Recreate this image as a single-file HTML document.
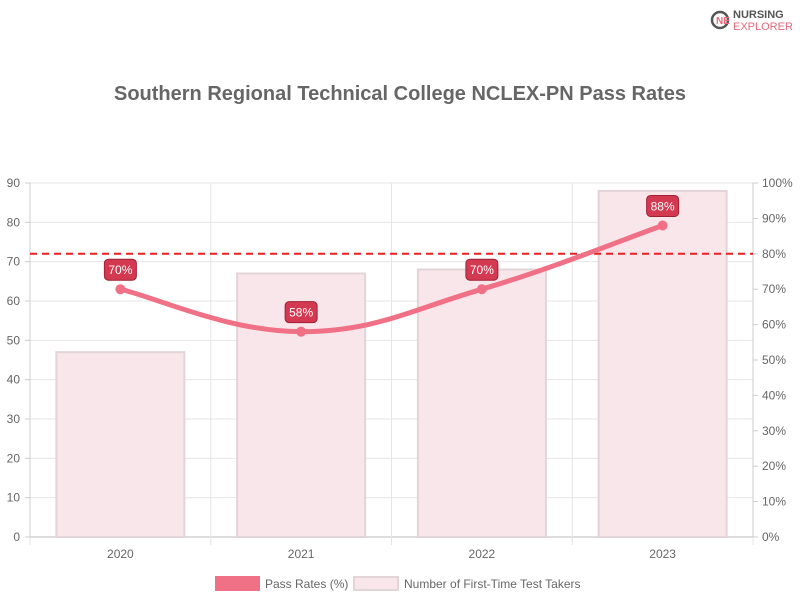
<!DOCTYPE html>
<html><head><meta charset="utf-8"><style>
body{margin:0;background:#fff;width:800px;height:600px;overflow:hidden;font-family:"Liberation Sans",sans-serif}
</style></head><body>
<svg id="c" width="800" height="600" font-family="Liberation Sans, sans-serif"></svg>
<script>
const categories=["2020","2021","2022","2023"];
const takers=[47,67,68,88];
const passRates=[70,58,70,88];
const benchmark=80;
const leftTicks=[0,10,20,30,40,50,60,70,80,90];
const rightTicks=["0%","10%","20%","30%","40%","50%","60%","70%","80%","90%","100%"];
const NS="http://www.w3.org/2000/svg";
const svg=document.getElementById('c');
function el(t,a,p){const e=document.createElementNS(NS,t);for(const k in a)e.setAttribute(k,a[k]);(p||svg).appendChild(e);return e;}
const X0=30,X1=753,Y0=537,Y1=183;
const band=(X1-X0)/categories.length;
const xc=i=>X0+band*(i+0.5);
const yL=v=>Y0-(v/90)*(Y0-Y1);
const yR=p=>Y0-(p/100)*(Y0-Y1);
// title
let t=el('text',{x:400,y:100,'text-anchor':'middle','font-size':20,'font-weight':'bold',fill:'#666'});t.textContent="Southern Regional Technical College NCLEX-PN Pass Rates";

// logo
const lg=el('g',{});
el('circle',{cx:720,cy:20,r:8,fill:'none',stroke:'#555','stroke-width':2.5},lg);
t=el('text',{x:716,y:24,'font-size':10,'font-weight':'bold',fill:'#e86a7c'},lg);t.textContent="NE";
t=el('text',{x:733,y:18,'font-size':11,'font-weight':'bold',fill:'#555'},lg);t.textContent="NURSING";
t=el('text',{x:733,y:30,'font-size':11,fill:'#e86a7c'},lg);t.textContent="EXPLORER";
// grid
leftTicks.forEach(v=>{const y=yL(v);
 el('line',{x1:X0,x2:X1,y1:y,y2:y,stroke:v===0?'#bbb':'#e5e5e5'});
 el('line',{x1:X0-5,x2:X0,y1:y,y2:y,stroke:'#ccc'});
 const tx=el('text',{x:X0-10,y:y+4,'text-anchor':'end','font-size':12,fill:'#666'});tx.textContent=v;
 });
rightTicks.forEach((s,i)=>{const y=yR(i*10);
 el('line',{x1:X1,x2:X1+5,y1:y,y2:y,stroke:'#ccc'});
 const tx=el('text',{x:X1+9,y:y+4,'font-size':12,fill:'#666'});tx.textContent=s;
 });
for(let i=0;i<=categories.length;i++){const x=X0+band*i;el('line',{x1:x,x2:x,y1:Y1,y2:Y0+8,stroke:'#e5e5e5'});}
el('line',{x1:X0,x2:X0,y1:Y1,y2:Y0,stroke:'#ccc'});
el('line',{x1:X1,x2:X1,y1:Y1,y2:Y0,stroke:'#ccc'});
// bars
takers.forEach((v,i)=>{const w=128;const b=el('rect',{x:xc(i)-w/2,y:yL(v),width:w,height:Y0-yL(v),fill:'#f8e6ea',stroke:'#e2d4d7','stroke-width':2});
 
 const tx=el('text',{x:xc(i),y:Y0+21,'text-anchor':'middle','font-size':12,fill:'#666'});tx.textContent=categories[i];
 });
// benchmark
const bl=el('line',{x1:X0,x2:X1,y1:yR(benchmark),y2:yR(benchmark),stroke:'#e8201e','stroke-width':2,'stroke-dasharray':'7,5'});

// line
const pts=passRates.map((p,i)=>[xc(i),yR(p)]);
let d=`M${pts[0][0]},${pts[0][1]}`;const k=0.4;
for(let i=0;i<pts.length-1;i++){const p0=pts[Math.max(i-1,0)],p1=pts[i],p2=pts[i+1],p3=pts[Math.min(i+2,pts.length-1)];
 const c1=[p1[0]+(p2[0]-p0[0])*k/2,p1[1]+(p2[1]-p0[1])*k/2],c2=[p2[0]-(p3[0]-p1[0])*k/2,p2[1]-(p3[1]-p1[1])*k/2];
 d+=` C${c1[0]},${c1[1]} ${c2[0]},${c2[1]} ${p2[0]},${p2[1]}`;}
const ln=el('path',{d,fill:'none',stroke:'#f07086','stroke-width':5,'stroke-linecap':'round'});

pts.forEach((p,i)=>{const c=el('circle',{cx:p[0],cy:p[1],r:5,fill:'#f07086'});
 
 const g=el('g',{});
 el('rect',{x:p[0]-16,y:p[1]-30,width:32,height:21,rx:4,fill:'#d33a52',stroke:'#a02035'},g);
 const tx=el('text',{x:p[0],y:p[1]-15,'text-anchor':'middle','font-size':12,fill:'#fff'},g);tx.textContent=passRates[i]+'%';});
// legend
const l1=el('g',{});
el('rect',{x:215,y:576,width:45,height:15,fill:'#f07086'},l1);
t=el('text',{x:265,y:588,'font-size':12,fill:'#666'},l1);t.textContent="Pass Rates (%)";
const l2=el('g',{});
el('rect',{x:354,y:577,width:44,height:13,fill:'#f8e6ea',stroke:'#e2d4d7','stroke-width':2},l2);
t=el('text',{x:404,y:588,'font-size':12,fill:'#666'},l2);t.textContent="Number of First-Time Test Takers";
</script>
</body></html>
